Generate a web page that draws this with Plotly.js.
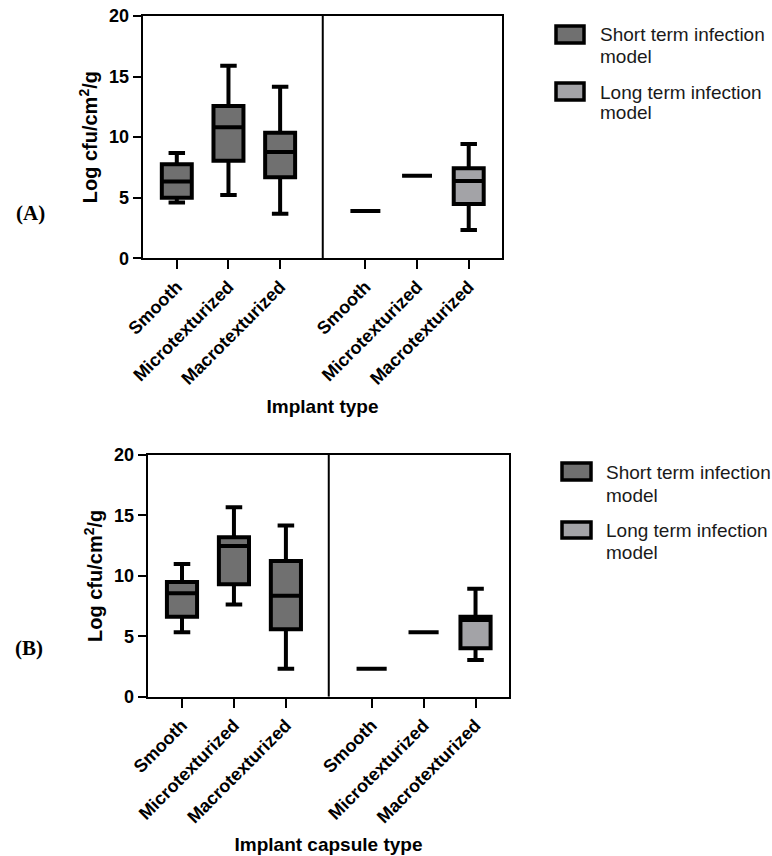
<!DOCTYPE html>
<html>
<head>
<meta charset="utf-8">
<script src="https://cdn.plot.ly/plotly-3.0.1.min.js"></script>
<style>html,body{margin:0;padding:0;background:#fff;} #chart{width:772px;height:856px;}</style>
</head>
<body>
<div id="chart"></div>
<script>
// ---- Data ----
const categories = ["Smooth", "Microtexturized", "Macrotexturized"];
const seriesNames = ["Short term infection model", "Long term infection model"];

// Panel A: implant
const A_short_low = [4.6, 5.23, 3.68];
const A_short_q1  = [5.0, 8.06, 6.69];
const A_short_med = [6.33, 10.82, 8.78];
const A_short_q3  = [7.76, 12.58, 10.37];
const A_short_up  = [8.7, 15.9, 14.15];

const A_long_low = [3.9, 6.82, 2.34];
const A_long_q1  = [3.9, 6.82, 4.48];
const A_long_med = [3.9, 6.82, 6.38];
const A_long_q3  = [3.9, 6.82, 7.43];
const A_long_up  = [3.9, 6.82, 9.44];

// Panel B: implant capsule
const B_short_low = [5.33, 7.62, 2.32];
const B_short_q1  = [6.62, 9.3, 5.58];
const B_short_med = [8.56, 12.47, 8.36];
const B_short_q3  = [9.49, 13.2, 11.23];
const B_short_up  = [10.98, 15.68, 14.16];

const B_long_low = [2.32, 5.33, 3.04];
const B_long_q1  = [2.32, 5.33, 4.0];
const B_long_med = [2.32, 5.33, 6.35];
const B_long_q3  = [2.32, 5.33, 6.62];
const B_long_up  = [2.32, 5.33, 8.94];

const yTicks = [0, 5, 10, 15, 20];
const xTitles = ["Implant type", "Implant capsule type"];
const yTitle = "Log cfu/cm<sup>2</sup>/g";
const panelLabels = ["(A)", "(B)"];

// ---- Layout helpers ----
const W = 772, H = 856;
const px = v => v / W;
const py = v => 1 - v / H;
const GROUP_OFFSET = 3.65;
const xs0 = categories.map((c, i) => i);
const xs1 = categories.map((c, i) => i + GROUP_OFFSET);
const tickvals = xs0.concat(xs1);
const ticktext = categories.concat(categories);
const shortFill = "#707070";
const longFill = "#a3a3a7";
const font = "Liberation Sans, Arial, sans-serif";

function boxTrace(x, low, q1, med, q3, up, fill, xa, ya) {
  return {
    type: "box", x: x, q1: q1, median: med, q3: q3,
    lowerfence: low, upperfence: up,
    xaxis: xa, yaxis: ya,
    width: 0.58, whiskerwidth: 0.55,
    fillcolor: fill, line: {color: "#000", width: 4},
    boxpoints: false, showlegend: false, hoverinfo: "skip"
  };
}

const data = [
  boxTrace(xs0, A_short_low, A_short_q1, A_short_med, A_short_q3, A_short_up, shortFill, "x", "y"),
  boxTrace(xs1, A_long_low, A_long_q1, A_long_med, A_long_q3, A_long_up, longFill, "x", "y"),
  boxTrace(xs0, B_short_low, B_short_q1, B_short_med, B_short_q3, B_short_up, shortFill, "x2", "y2"),
  boxTrace(xs1, B_long_low, B_long_q1, B_long_med, B_long_q3, B_long_up, longFill, "x2", "y2")
];

function xaxis(domain, anchor, title) {
  return {
    domain: domain, anchor: anchor, range: [-0.66, 6.30],
    tickmode: "array", tickvals: tickvals, ticktext: ticktext,
    tickangle: -45, ticks: "outside", ticklen: 9, tickwidth: 2, tickcolor: "#000",
    tickfont: {family: font, size: 18, color: "#000", weight: "bold"},
    showline: true, linewidth: 2, linecolor: "#000", mirror: true,
    showgrid: false, zeroline: false, fixedrange: true,
    title: {text: title, font: {family: font, size: 19, color: "#000", weight: "bold"}, standoff: 12}
  };
}
function yaxis(domain, anchor) {
  return {
    domain: domain, anchor: anchor, range: [0, 20],
    tickmode: "array", tickvals: yTicks,
    ticks: "outside", ticklen: 8, tickwidth: 2, tickcolor: "#000",
    tickfont: {family: font, size: 18, color: "#000", weight: "bold"},
    showline: true, linewidth: 2, linecolor: "#000", mirror: true,
    showgrid: false, zeroline: false, fixedrange: true,
    title: {text: yTitle, font: {family: font, size: 20, color: "#000", weight: "bold"}, standoff: 6}
  };
}

const shapes = [];
const annotations = [];
// dividers between the two groups
[["x", "y"], ["x2", "y2"]].forEach(([xa, ya]) => {
  const mid = (categories.length - 1 + GROUP_OFFSET) / 2;
  shapes.push({type: "line", xref: xa, yref: ya, x0: mid, x1: mid, y0: 0, y1: 20,
    line: {color: "#000", width: 2}});
});

// legends (drawn per panel)
const legendPos = [
  {ix0: 556, ix1: 584, tx: 598, items: [{iy0: 26, iy1: 43, l1: 34, l2: 56}, {iy0: 83, iy1: 100, l1: 92.5, l2: 112}]},
  {ix0: 562, ix1: 591, tx: 604, items: [{iy0: 463, iy1: 480, l1: 472.5, l2: 495}, {iy0: 522, iy1: 538, l1: 530, l2: 552}]}
];
const fills = [shortFill, longFill];
legendPos.forEach(lp => {
  lp.items.forEach((it, k) => {
    shapes.push({type: "rect", xref: "paper", yref: "paper",
      x0: px(lp.ix0), x1: px(lp.ix1), y0: py(it.iy1), y1: py(it.iy0),
      fillcolor: fills[k], line: {color: "#000", width: 3.5}});
    const words = seriesNames[k].split(" ");
    const line1 = words.slice(0, 3).join(" ");
    const line2 = words.slice(3).join(" ");
    [[line1, it.l1], [line2, it.l2]].forEach(([t, yy]) => {
      annotations.push({xref: "paper", yref: "paper", x: px(lp.tx), y: py(yy),
        xanchor: "left", yanchor: "middle", showarrow: false, text: t,
        font: {family: font, size: 19, color: "#1a1a1a"}});
    });
  });
});

// panel labels
[[30, 213], [29.5, 648]].forEach(([x, y], i) => {
  annotations.push({xref: "paper", yref: "paper", x: px(x), y: py(y),
    xanchor: "center", yanchor: "middle", showarrow: false, text: panelLabels[i],
    font: {family: "Liberation Serif, Times New Roman, serif", size: 21, color: "#000", weight: "bold"}});
});

const layout = {
  width: W, height: H,
  margin: {l: 0, r: 0, t: 0, b: 0},
  paper_bgcolor: "#fff", plot_bgcolor: "#fff",
  showlegend: false,
  xaxis: xaxis([px(142.7), px(502.3)], "y", xTitles[0]),
  yaxis: yaxis([py(258.3), py(16)], "x"),
  xaxis2: xaxis([px(147.7), px(509.3)], "y2", xTitles[1]),
  yaxis2: yaxis([py(696.7), py(455)], "x2"),
  shapes: shapes,
  annotations: annotations
};

Plotly.newPlot("chart", data, layout, {displayModeBar: false, staticPlot: true});
</script>
</body>
</html>
